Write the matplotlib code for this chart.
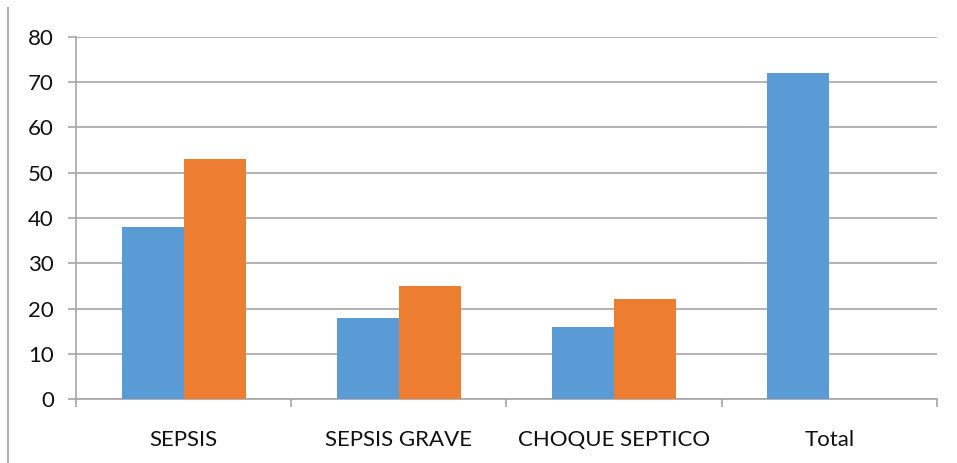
import numpy as np
import matplotlib.pyplot as plt
from matplotlib.lines import Line2D

categories = ["SEPSIS", "SEPSIS GRAVE", "CHOQUE SEPTICO", "Total"]
series_blue = [38, 18, 16, 72]
series_orange = [53, 25, 22, 0]

BLUE = "#5b9bd5"
ORANGE = "#ed7d31"
GRID = "#a6a6a6"

plt.rcParams["font.family"] = ["Lato", "DejaVu Sans"]

fig = plt.figure(figsize=(9.57, 4.63), dpi=100)
ax = fig.add_axes([0.0794, 0.1382, 0.8997, 0.7819])

x = np.arange(len(categories))
width = 0.288
ax.bar(x - width / 2, series_blue, width=width, color=BLUE, zorder=3)
ax.bar(x + width / 2, series_orange, width=width, color=ORANGE, zorder=3)

ax.set_xlim(-0.5, len(categories) - 0.5)
ax.set_ylim(0, 80)
ax.set_yticks(np.arange(0, 81, 10))
ax.yaxis.grid(True, color=GRID, linewidth=1.2)
ax.set_axisbelow(True)

ax.set_xticks(x)
ax.set_xticklabels(categories, fontsize=16, color="#111111")
ax.set_xticks(np.arange(-0.5, len(categories)), minor=True)
ax.tick_params(axis="x", which="major", length=0, pad=22)
ax.tick_params(axis="x", which="minor", length=6, width=1.2, color=GRID)
ax.tick_params(axis="y", length=6, width=1.2, color=GRID, pad=10,
               labelsize=16, labelcolor="#111111")

for side in ["top", "right"]:
    ax.spines[side].set_visible(False)
for side in ["left", "bottom"]:
    ax.spines[side].set_color(GRID)
    ax.spines[side].set_linewidth(1.2)

# thin grey border line at the left edge of the picture
fig.add_artist(Line2D([8 / 957, 8 / 957], [0, 1 - 8 / 463],
                      color="#b0b0b0", linewidth=1.5))

plt.savefig("out.png", dpi=100)
